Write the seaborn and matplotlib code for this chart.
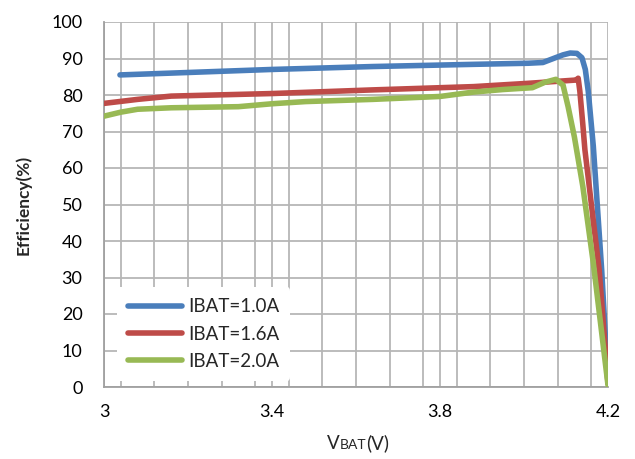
import numpy as np
import pandas as pd
import seaborn as sns
import matplotlib
matplotlib.use('Agg')
import matplotlib.pyplot as plt
from matplotlib.ticker import MultipleLocator
from matplotlib.offsetbox import TextArea, HPacker, AnnotationBbox

# efficiency curves, VBAT in volts, efficiency in %
v_10 = [3.038, 3.16, 3.40, 3.64, 3.88, 4.01, 4.045, 4.07, 4.093, 4.11, 4.126, 4.138,
        4.146, 4.153, 4.165, 4.185, 4.20]
eff_10 = [85.5, 86.0, 87.0, 87.8, 88.4, 88.7, 88.9, 90.0, 91.0, 91.5, 91.4, 90.2,
          87.0, 81.0, 66.0, 32.0, 1.0]

v_16 = [3.00, 3.08, 3.16, 3.40, 3.64, 3.88, 4.01, 4.124, 4.129, 4.133, 4.14, 4.145,
        4.179, 4.20]
eff_16 = [77.7, 78.8, 79.7, 80.4, 81.4, 82.3, 83.2, 84.1, 84.6, 81.0, 72.0, 65.0,
          32.0, 1.0]

v_20 = [3.00, 3.04, 3.08, 3.16, 3.32, 3.40, 3.48, 3.64, 3.80, 3.88, 3.95, 4.02,
        4.05, 4.076, 4.093, 4.105, 4.12, 4.14, 4.165, 4.20]
eff_20 = [74.2, 75.3, 76.1, 76.5, 76.8, 77.6, 78.2, 78.8, 79.6, 80.8, 81.5, 82.0,
          83.5, 84.3, 82.7, 76.8, 68.5, 55.0, 34.0, 0.5]

labels = ['IBAT=1.0A', 'IBAT=1.6A', 'IBAT=2.0A']
colors = ['#4A7EBB', '#BE4B48', '#98B954']
xticks = [3.0, 3.4, 3.8, 4.2]
xtick_labels = ['3', '3.4', '3.8', '4.2']

df = pd.concat([
    pd.DataFrame({'vbat': v_10, 'eff': eff_10, 'series': labels[0]}),
    pd.DataFrame({'vbat': v_16, 'eff': eff_16, 'series': labels[1]}),
    pd.DataFrame({'vbat': v_20, 'eff': eff_20, 'series': labels[2]}),
], ignore_index=True)

sns.set_style('white')
plt.rcParams['font.family'] = ['Lato', 'DejaVu Sans']

fig = plt.figure(figsize=(6.35, 4.59), dpi=100)
ax = fig.add_axes([104 / 635, 1 - 387 / 459, 504 / 635, 365 / 459])

sns.lineplot(data=df, x='vbat', y='eff', hue='series', palette=colors,
             sort=False, estimator=None, linewidth=4.0, ax=ax,
             solid_capstyle='round', solid_joinstyle='round', zorder=3)

ax.set_xlim(3.0, 4.2)
ax.set_ylim(0, 100)
ax.set_xticks(xticks)
ax.set_xticklabels(xtick_labels)
ax.xaxis.set_minor_locator(MultipleLocator(0.08))
ax.yaxis.set_major_locator(MultipleLocator(10))

grid_c = '#B6B6B6'
ax.grid(True, which='both', axis='x', color=grid_c, linewidth=1.3)
ax.grid(True, which='major', axis='y', color=grid_c, linewidth=1.3)
ax.set_axisbelow(True)
for side in ['top', 'right']:
    ax.spines[side].set_visible(False)
for side in ['left', 'bottom']:
    ax.spines[side].set_color('#A0A0A0')
    ax.spines[side].set_linewidth(1.3)

ax.tick_params(axis='both', which='major', direction='out', length=4.5, width=1.3,
               color='#A0A0A0', labelsize=13, labelcolor='black')
ax.tick_params(axis='y', pad=11)
ax.tick_params(axis='x', pad=8)
ax.tick_params(axis='x', which='minor', length=0)

ax.set_ylabel('Efficiency(%)', fontsize=12.5, fontweight='bold', labelpad=14)
ax.set_xlabel('')

# x label: V with small-caps BAT on the same baseline
parts = [TextArea('V', textprops=dict(size=13.5)),
         TextArea('BAT', textprops=dict(size=10)),
         TextArea('(V)', textprops=dict(size=13.5))]
box = HPacker(children=parts, align='baseline', pad=0, sep=0)
ab = AnnotationBbox(box, (358 / 635, 1 - 443 / 459), xycoords='figure fraction',
                    frameon=False, box_alignment=(0.5, 0.5))
fig.add_artist(ab)

leg = ax.legend(loc='center left', bbox_to_anchor=(0.025, 0.145), fontsize=13.5,
                frameon=True, facecolor='white', edgecolor='none', framealpha=1,
                handlelength=2.9, handletextpad=0.3, labelspacing=0.55,
                borderpad=0.6, borderaxespad=0)
for line in leg.get_lines():
    line.set_linewidth(4.0)
    line.set_solid_capstyle('round')

fig.savefig('out.png', dpi=100)
